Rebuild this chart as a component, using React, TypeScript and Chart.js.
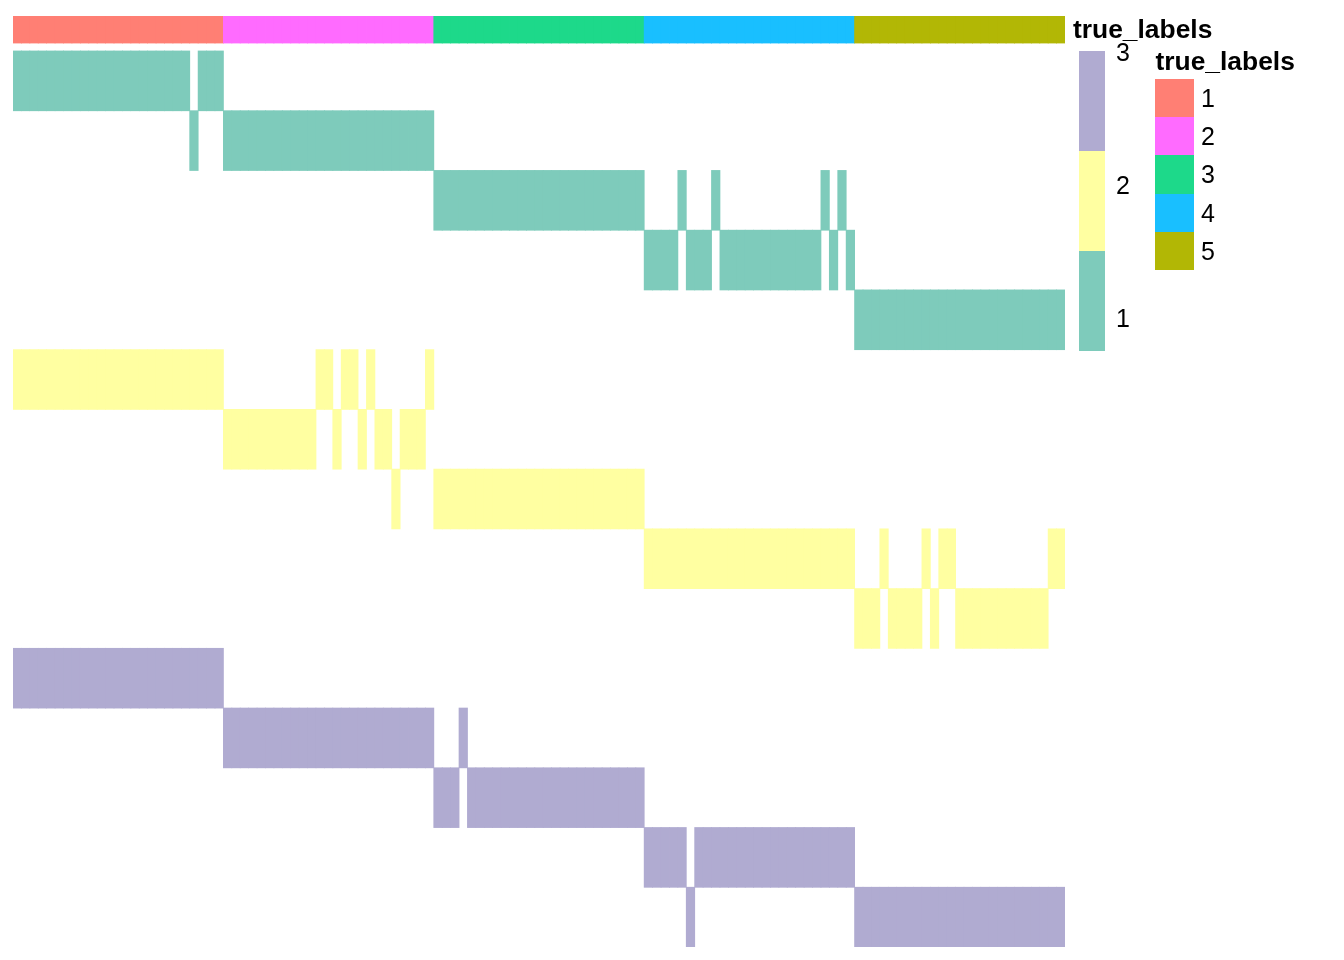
import React, { useEffect, useRef } from "react";
import { Chart, registerables } from "chart.js";

Chart.register(...registerables);

// ---- data ----
const TRUE_LABEL_LEVELS = ["1", "2", "3", "4", "5"];
const TRUE_LABEL_COLORS = ["#FF7F74", "#FF6BFF", "#1DD98A", "#19BFFF", "#B2B705"];

const TRUE_LABELS = [
  1, 1, 1, 1, 1, 1, 1, 1, 1, 1, 1, 1, 1, 1, 1, 1, 1, 1, 1, 1, 1, 1, 1, 1, 1,
  2, 2, 2, 2, 2, 2, 2, 2, 2, 2, 2, 2, 2, 2, 2, 2, 2, 2, 2, 2, 2, 2, 2, 2, 2,
  3, 3, 3, 3, 3, 3, 3, 3, 3, 3, 3, 3, 3, 3, 3, 3, 3, 3, 3, 3, 3, 3, 3, 3, 3,
  4, 4, 4, 4, 4, 4, 4, 4, 4, 4, 4, 4, 4, 4, 4, 4, 4, 4, 4, 4, 4, 4, 4, 4, 4,
  5, 5, 5, 5, 5, 5, 5, 5, 5, 5, 5, 5, 5, 5, 5, 5, 5, 5, 5, 5, 5, 5, 5, 5, 5,
];

// clustering drawn in value "1" (teal rows)
const CLUSTER_1 = [
  1, 1, 1, 1, 1, 1, 1, 1, 1, 1, 1, 1, 1, 1, 1, 1, 1, 1, 1, 1, 1, 2, 1, 1, 1,
  2, 2, 2, 2, 2, 2, 2, 2, 2, 2, 2, 2, 2, 2, 2, 2, 2, 2, 2, 2, 2, 2, 2, 2, 2,
  3, 3, 3, 3, 3, 3, 3, 3, 3, 3, 3, 3, 3, 3, 3, 3, 3, 3, 3, 3, 3, 3, 3, 3, 3,
  4, 4, 4, 4, 3, 4, 4, 4, 3, 4, 4, 4, 4, 4, 4, 4, 4, 4, 4, 4, 4, 3, 4, 3, 4,
  5, 5, 5, 5, 5, 5, 5, 5, 5, 5, 5, 5, 5, 5, 5, 5, 5, 5, 5, 5, 5, 5, 5, 5, 5,
];

// clustering drawn in value "2" (yellow rows)
const CLUSTER_2 = [
  1, 1, 1, 1, 1, 1, 1, 1, 1, 1, 1, 1, 1, 1, 1, 1, 1, 1, 1, 1, 1, 1, 1, 1, 1,
  2, 2, 2, 2, 2, 2, 2, 2, 2, 2, 2, 1, 1, 2, 1, 1, 2, 1, 2, 2, 3, 2, 2, 2, 1,
  3, 3, 3, 3, 3, 3, 3, 3, 3, 3, 3, 3, 3, 3, 3, 3, 3, 3, 3, 3, 3, 3, 3, 3, 3,
  4, 4, 4, 4, 4, 4, 4, 4, 4, 4, 4, 4, 4, 4, 4, 4, 4, 4, 4, 4, 4, 4, 4, 4, 4,
  5, 5, 5, 4, 5, 5, 5, 5, 4, 5, 4, 4, 5, 5, 5, 5, 5, 5, 5, 5, 5, 5, 5, 4, 4,
];

// clustering drawn in value "3" (purple rows)
const CLUSTER_3 = [
  1, 1, 1, 1, 1, 1, 1, 1, 1, 1, 1, 1, 1, 1, 1, 1, 1, 1, 1, 1, 1, 1, 1, 1, 1,
  2, 2, 2, 2, 2, 2, 2, 2, 2, 2, 2, 2, 2, 2, 2, 2, 2, 2, 2, 2, 2, 2, 2, 2, 2,
  3, 3, 3, 2, 3, 3, 3, 3, 3, 3, 3, 3, 3, 3, 3, 3, 3, 3, 3, 3, 3, 3, 3, 3, 3,
  4, 4, 4, 4, 4, 5, 4, 4, 4, 4, 4, 4, 4, 4, 4, 4, 4, 4, 4, 4, 4, 4, 4, 4, 4,
  5, 5, 5, 5, 5, 5, 5, 5, 5, 5, 5, 5, 5, 5, 5, 5, 5, 5, 5, 5, 5, 5, 5, 5, 5,
];

const CLUSTER_LEVELS = [1, 2, 3, 4, 5];
const HEAT_LEVELS = ["1", "2", "3"];
const HEAT_COLORS = ["#7ECBBB", "#FFFFA1", "#B0ABD1"];

const SAMPLES = TRUE_LABELS.map((_, i) => `s${i + 1}`);

// ---- layout constants ----
const N_ROWS = 15;
const ROW_H = 896 / 15; // pixel height of one heatmap row
const Y_MAX = N_ROWS + 35 / ROW_H; // room above heatmap for annotation bar
const ANNOT_LOW = N_ROWS + 8 / ROW_H;

const FONT = "'Liberation Sans', Arial, Helvetica, sans-serif";

export default function App() {
  const ref = useRef<HTMLCanvasElement>(null);

  useEffect(() => {
    if (!ref.current) return;
    const clusterings = [CLUSTER_1, CLUSTER_2, CLUSTER_3];
    const datasets: any[] = [];
    clusterings.forEach((assign, ci) => {
      CLUSTER_LEVELS.forEach((k, ki) => {
        const r = ci * CLUSTER_LEVELS.length + ki;
        datasets.push({
          label: `${HEAT_LEVELS[ci]}-${k}`,
          data: assign.map((v) => (v === k ? [N_ROWS - r - 1, N_ROWS - r] : null)),
          backgroundColor: HEAT_COLORS[ci],
          borderWidth: 0,
        });
      });
    });
    datasets.push({
      label: "true_labels",
      data: TRUE_LABELS.map(() => [ANNOT_LOW, Y_MAX]),
      backgroundColor: TRUE_LABELS.map((v) => TRUE_LABEL_COLORS[v - 1]),
      borderWidth: 0,
    });

    const chart = new Chart(ref.current, {
      type: "bar",
      data: { labels: SAMPLES, datasets },
      options: {
        animation: false,
        responsive: true,
        maintainAspectRatio: false,
        layout: { padding: { left: 13, right: 279, top: 16, bottom: 13 } },
        datasets: {
          bar: {
            grouped: false,
            barPercentage: 1,
            categoryPercentage: 1,
            inflateAmount: 0.4,
          },
        } as any,
        scales: {
          x: { display: false, offset: true },
          y: { display: false, min: 0, max: Y_MAX },
        },
        plugins: {
          legend: { display: false },
          tooltip: { enabled: false },
        },
      },
    });
    return () => chart.destroy();
  }, []);

  const titleStyle: React.CSSProperties = {
    position: "absolute",
    fontFamily: FONT,
    fontWeight: "bold",
    fontSize: 26.4,
    lineHeight: "1",
    color: "#000",
    whiteSpace: "nowrap",
  };
  const labelStyle: React.CSSProperties = {
    position: "absolute",
    fontFamily: FONT,
    fontSize: 25,
    lineHeight: "1",
    color: "#000",
    whiteSpace: "nowrap",
  };

  const SW_TOP = 79;
  const SW_H = 38.2;
  const barLabelCenters = [318.5, 185.3, 52.3];

  return (
    <div
      style={{
        position: "absolute",
        left: 0,
        top: 0,
        width: 1344,
        height: 960,
        background: "#fff",
        overflow: "hidden",
      }}
    >
      <canvas ref={ref} />
      {/* color bar legend for heatmap values */}
      {HEAT_LEVELS.map((lv, i) => (
        <div
          key={`cb${lv}`}
          style={{
            position: "absolute",
            left: 1079,
            top: 51 + (HEAT_LEVELS.length - 1 - i) * 100,
            width: 26,
            height: 100,
            background: HEAT_COLORS[i],
          }}
        />
      ))}
      {HEAT_LEVELS.map((lv, i) => (
        <div key={`cbl${lv}`} style={{ ...labelStyle, left: 1116, top: barLabelCenters[i] - 12.2 }}>
          {lv}
        </div>
      ))}
      {/* annotation name */}
      <div style={{ ...titleStyle, left: 1073, top: 16 }}>true_labels</div>
      {/* true_labels legend */}
      <div style={{ ...titleStyle, left: 1155.5, top: 48 }}>true_labels</div>
      {TRUE_LABEL_LEVELS.map((lv, i) => (
        <div
          key={`sw${lv}`}
          style={{
            position: "absolute",
            left: 1155,
            top: SW_TOP + i * SW_H,
            width: 39,
            height: SW_H + 0.5,
            background: TRUE_LABEL_COLORS[i],
          }}
        />
      ))}
      {TRUE_LABEL_LEVELS.map((lv, i) => (
        <div
          key={`swl${lv}`}
          style={{ ...labelStyle, left: 1201, top: SW_TOP + (i + 0.5) * SW_H - 12.2 }}
        >
          {lv}
        </div>
      ))}
    </div>
  );
}
